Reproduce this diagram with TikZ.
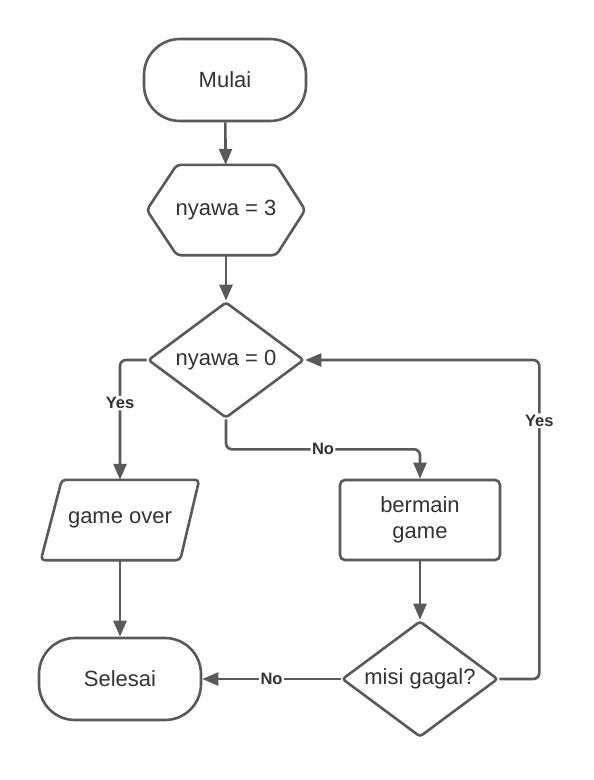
\documentclass[tikz,border=0pt]{standalone}
\usepackage{fontspec}
\setmainfont{Liberation Sans}
\usetikzlibrary{shapes.geometric,arrows.meta}
\definecolor{ln}{HTML}{5A5A5A}
\definecolor{tx}{HTML}{333333}
\begin{document}
\begin{tikzpicture}[x=1pt,y=-1pt,
  txt/.style={text=tx, font=\fontsize{22}{26}\selectfont, align=center, inner sep=0pt},
  box/.style={txt, draw=ln, line width=2.6pt},
  term/.style={box, rectangle, rounded corners=36pt, minimum width=162pt, minimum height=82pt},
  dec/.style={box, diamond, aspect=1.34, minimum width=156pt, minimum height=116pt, rounded corners=3pt},
  proc/.style={box, rectangle, rounded corners=5pt, minimum width=160pt, minimum height=80pt},
  ghost/.style={txt, rectangle},
  outline/.style={draw=ln, line width=2.6pt, rounded corners=4pt, line join=round},
  flow/.style={draw=ln, line width=2.6pt, rounded corners=6pt, -{Triangle[length=16pt,width=13pt]}},
  lbl/.style={fill=white, text=tx, font=\bfseries\fontsize{16.5}{18}\selectfont, inner sep=1.5pt}
]
\useasboundingbox (0,0) rectangle (594,780);
\fill[white] (0,0) rectangle (594,780);

\node[term] (start) at (225,80) {Mulai};
\node[ghost, minimum width=158pt, minimum height=90pt] (init) at (226,210) {nyawa = 3};
\draw[outline] ([xshift=30pt]init.north west) -- ([xshift=-29pt]init.north east) -- (init.east)
  -- ([xshift=-29pt]init.south east) -- ([xshift=30pt]init.south west) -- (init.west) -- cycle;
\node[dec] (cek) at (226,360) {nyawa = 0};
\node[ghost, minimum width=158pt, minimum height=80pt] (go) at (120,520) {game over};
\draw[outline] ([xshift=21pt]go.north west) -- (go.north east)
  -- ([xshift=-19pt]go.south east) -- (go.south west) -- cycle;
\node[proc] (main) at (420,520) {bermain\\game};
\node[dec] (misi) at (420,679) {misi gagal?};
\node[term] (end) at (120,679) {Selesai};

\draw[flow] (start) -- (init);
\draw[flow] (init) -- (cek);
\draw[flow] (cek.west) -| node[lbl, pos=0.68] {Yes} (go.north);
\draw[flow] (cek.south) -- ++(0,30) -| node[lbl, pos=0.25] {No} (main.north);
\draw[flow] (main) -- (misi);
\draw[flow] (go.south) -- (end.north);
\draw[flow] (misi.west) -- node[lbl] {No} (end.east);
\draw[flow] (misi.east) -- ++(40,0) |- node[lbl, pos=0.405] {Yes} (cek.east);
\end{tikzpicture}
\end{document}
